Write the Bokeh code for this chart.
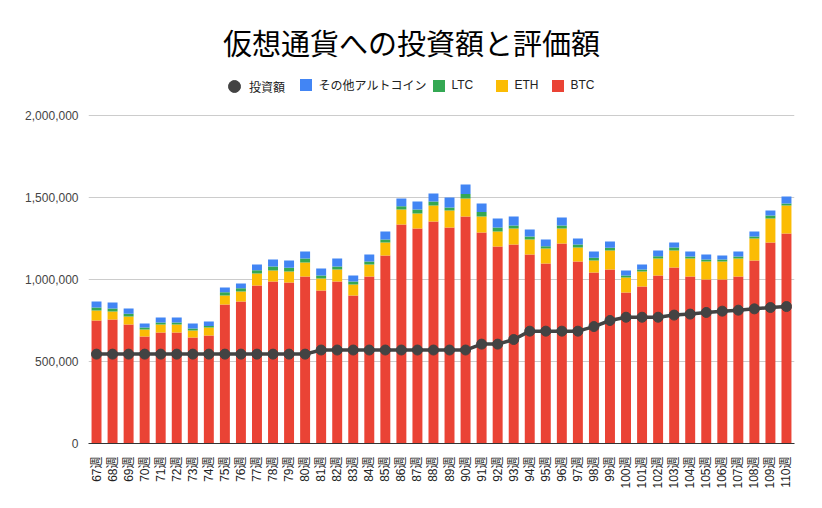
from math import pi
from bokeh.plotting import figure
from bokeh.models import (FactorRange, Range1d, FixedTicker, NumeralTickFormatter,
                          Legend, LegendItem, ColumnDataSource, Label)
from bokeh.embed import file_html
from bokeh.resources import INLINE

weeks = [f"{i}週" for i in range(67, 111)]

btc = [750, 756, 726, 652, 677, 677, 646, 659, 848, 866, 963, 988, 982, 1018, 933,
       988, 902, 1018, 1146, 1335, 1311, 1354, 1317, 1384, 1287, 1201, 1213, 1152, 1098,
       1220, 1110, 1043, 1061, 921, 957, 1024, 1073, 1018, 1000, 1000, 1018, 1116, 1226, 1280]
eth = [61, 49, 48, 43, 49, 49, 43, 48, 54, 61, 74, 67, 67, 86, 73,
       73, 68, 73, 80, 92, 91, 97, 104, 110, 97, 92, 98, 92, 91,
       91, 85, 73, 116, 91, 92, 104, 104, 110, 110, 110, 110, 134, 146, 171]
ltc = [18, 18, 17, 12, 12, 12, 12, 10, 21, 20, 20, 24, 22, 24, 18,
       18, 18, 19, 18, 20, 25, 25, 18, 28, 27, 24, 18, 18, 14,
       18, 18, 16, 16, 12, 12, 14, 18, 12, 12, 12, 12, 12, 18, 12]
other = [37, 37, 32, 25, 30, 30, 31, 27, 28, 29, 34, 43, 45, 43, 43,
         49, 36, 42, 49, 47, 49, 48, 61, 57, 52, 55, 55, 43, 41,
         49, 37, 39, 39, 31, 30, 35, 31, 31, 30, 24, 31, 31, 31, 43]
invest = [545, 545, 545, 545, 545, 545, 545, 545, 545, 545, 545, 545, 545, 545, 570,
          570, 570, 570, 570, 570, 570, 570, 570, 570, 606, 606, 634, 685, 685,
          685, 685, 713, 750, 770, 770, 770, 783, 789, 799, 807, 813, 821, 829, 835]
y_ticks = [0, 500000, 1000000, 1500000, 2000000]

K = 1000
source = ColumnDataSource(dict(
    week=weeks,
    BTC=[v * K for v in btc],
    ETH=[v * K for v in eth],
    LTC=[v * K for v in ltc],
    other=[v * K for v in other],
    invest=[v * K for v in invest],
))

FONT = "'Liberation Sans', 'Noto Sans CJK JP', sans-serif"

# frame covers the full height above the axis so title/legend can live inside it
FRAME_H = 443
Y_MAX = 2_000_000 * FRAME_H / 328

p = figure(width=806, height=500, x_range=FactorRange(*weeks), y_range=Range1d(0, Y_MAX),
           output_backend="svg", toolbar_location=None,
           min_border_left=88, min_border_right=12, min_border_top=0, min_border_bottom=57)

colors = ["#EA4335", "#FBBC04", "#34A853", "#4285F4"]
bars = p.vbar_stack(["BTC", "ETH", "LTC", "other"], x="week", width=0.62, color=colors,
                    line_width=0, source=source)

ln = p.line(x="week", y="invest", source=source, line_width=3.5, color="#434343")
sc = p.scatter(x="week", y="invest", source=source, size=10, color="#434343")

title = Label(text="仮想通貨への投資額と評価額", x=323, y=402, x_units="screen", y_units="screen",
              text_align="center", text_baseline="middle",
              text_font="'Noto Sans CJK JP', sans-serif", text_font_size="29px",
              text_color="#000000")
p.add_layout(title)

common = dict(orientation="horizontal", label_text_font=FONT, label_text_font_size="12px",
              label_text_color="#222222", border_line_color=None, background_fill_alpha=0,
              padding=0, margin=0, label_height=14)

p.add_layout(Legend(items=[LegendItem(label="投資額", renderers=[sc])],
                    location=(131, 342), glyph_width=30, glyph_height=30, label_standoff=0,
                    **common))
legend_specs = [("その他アルトコイン", bars[3], 209.5),
                ("LTC", bars[2], 342.5),
                ("ETH", bars[1], 405.5),
                ("BTC", bars[0], 461.5)]
for lbl, rend, vx in legend_specs:
    p.add_layout(Legend(items=[LegendItem(label=lbl, renderers=[rend])],
                        location=(vx, 350.5), glyph_width=15, glyph_height=15,
                        label_standoff=6, **common))

p.xgrid.grid_line_color = None
p.ygrid.grid_line_color = "#cccccc"
p.ygrid.grid_line_width = 1
p.outline_line_color = None
p.x_range.range_padding = 0.0
p.x_range.factor_padding = 0.0

p.yaxis.ticker = FixedTicker(ticks=y_ticks)
p.yaxis.formatter = NumeralTickFormatter(format="0,0")
p.yaxis.axis_line_color = None
p.yaxis.major_tick_line_color = None
p.yaxis.minor_tick_line_color = None
p.yaxis.major_label_text_font = FONT
p.yaxis.major_label_text_font_size = "12px"
p.yaxis.major_label_text_color = "#444444"
p.yaxis.major_label_standoff = 4

p.xaxis.axis_line_color = "#333333"
p.xaxis.axis_line_width = 1
p.xaxis.major_tick_line_color = None
p.xaxis.minor_tick_line_color = None
p.xaxis.major_label_orientation = pi / 2
p.xaxis.major_label_text_font = FONT
p.xaxis.major_label_text_font_size = "12px"
p.xaxis.major_label_text_color = "#222222"
p.xaxis.major_label_standoff = 7

open("out.html", "w").write(file_html(p, INLINE))
